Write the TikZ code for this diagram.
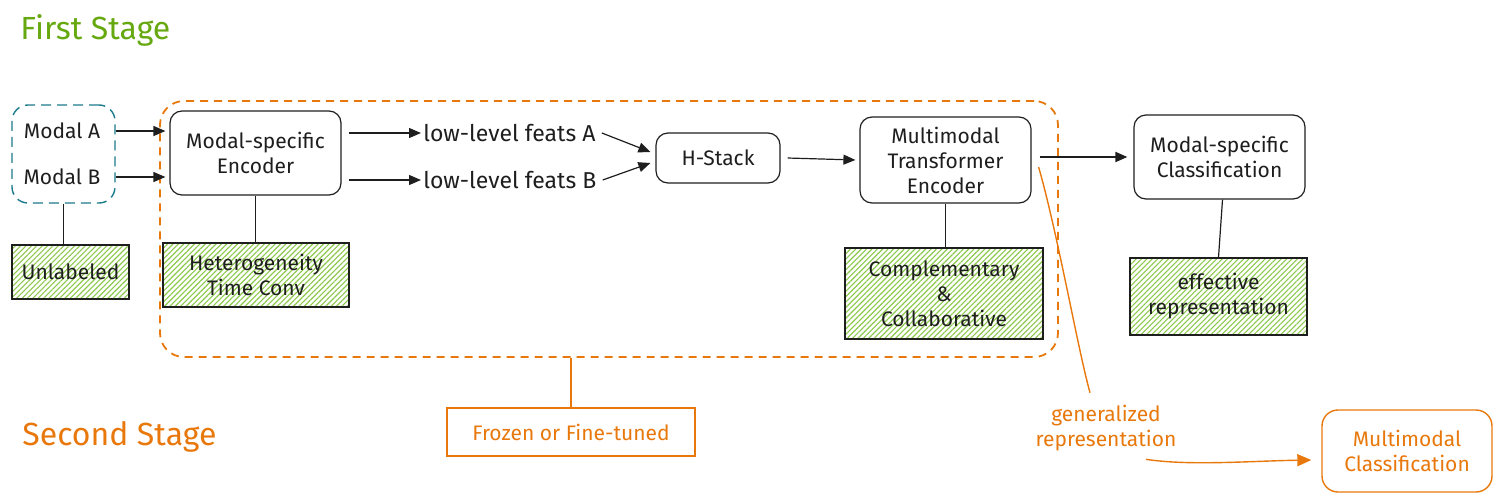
\documentclass[tikz,border=0pt]{standalone}
\usepackage{fontspec}
\setmainfont{Fira Sans}
\usetikzlibrary{arrows.meta,patterns.meta,calc}
\definecolor{ink}{HTML}{1E1E1E}
\definecolor{stgreen}{HTML}{66A80F}
\definecolor{hatch}{HTML}{8CC84B}
\definecolor{orng}{HTML}{E8780C}
\definecolor{teal}{HTML}{1B7A8C}
\tikzset{
  txt/.style={font=\fontsize{10.5}{12.5}\selectfont, text=ink, align=center, inner sep=1pt},
  blackbox/.style={txt, draw=ink, line width=0.6pt, rounded corners=6pt},
  hatchbox/.style={txt, draw=ink, line width=0.7pt,
    pattern={Lines[angle=45,distance=1.9pt,line width=0.55pt]}, pattern color=hatch},
  orangebox/.style={txt, text=orng, draw=orng, line width=0.7pt},
  conn/.style={draw=ink, line width=0.6pt},
  arr/.style={conn, -{Triangle[length=6pt,width=5pt]}},
  oarr/.style={draw=orng, line width=0.7pt, -{Triangle[length=7pt,width=6pt]}},
  stage/.style={font=\fontsize{16}{19}\selectfont, inner sep=0pt, anchor=west},
}
\begin{document}
\begin{tikzpicture}[x=0.5pt,y=-0.5pt]
\useasboundingbox (0,0) rectangle (1502,503);
% stage titles
\node[stage, text=stgreen] (first) at (20,30) {First Stage};
\node[stage, text=orng] (second) at (22,437) {Second Stage};
% outer orange dashed region
\node[draw=orng, line width=0.9pt, dash pattern=on 4pt off 3pt, rounded corners=12pt,
      minimum width=449pt, minimum height=128pt, inner sep=0pt] (outer) at (609,229) {};
% modal box
\node[draw=teal, line width=0.7pt, dash pattern=on 5pt off 3pt, rounded corners=8pt,
      minimum width=51.5pt, minimum height=49pt, inner sep=0pt] (modal) at (63.5,154) {};
\node[txt] (mA) at (62,131) {Modal A};
\node[txt] (mB) at (62,177) {Modal B};
\node[hatchbox, minimum width=58.5pt, minimum height=27pt] (unl) at (70.5,272) {Unlabeled};
% encoder
\node[blackbox, minimum width=85.5pt, minimum height=42pt] (enc) at (255.5,153) {Modal-specific\\Encoder};
\node[hatchbox, minimum width=93pt, minimum height=32pt] (het) at (256,275) {Heterogeneity\\Time Conv};
% features
\node[txt, anchor=west, font=\fontsize{11.5}{13}\selectfont] (fA) at (421,133) {low-level feats A};
\node[txt, anchor=west, font=\fontsize{11.5}{13}\selectfont] (fB) at (421,180) {low-level feats B};
% H-Stack
\node[blackbox, minimum width=62pt, minimum height=25pt] (hs) at (718,158) {H-Stack};
% MTE
\node[blackbox, minimum width=85.5pt, minimum height=43pt] (mte) at (945.5,160) {Multimodal\\Transformer\\Encoder};
\node[hatchbox, minimum width=99pt, minimum height=45.5pt] (cc) at (944,293.5) {Complementary\\\&\\Collaborative};
% MSC
\node[blackbox, minimum width=85.5pt, minimum height=42pt] (msc) at (1219.5,157) {Modal-specific\\Classification};
\node[hatchbox, minimum width=88.5pt, minimum height=38.5pt] (er) at (1218.5,296.5) {effective\\representation};
% frozen
\node[orangebox, minimum width=124pt, minimum height=24pt] (fz) at (571,432) {Frozen or Fine-tuned};
% multimodal classification
\node[orangebox, rounded corners=8pt, minimum width=85pt, minimum height=41pt] (mc) at (1407,451) {Multimodal\\Classification};
\node[txt, text=orng] (gen) at (1106,428) {generalized\\representation};
% connectors
\draw[arr] (modal.east |- mA) -- ([xshift=-2pt]enc.west |- mA);
\draw[arr] (modal.east |- mB) -- ([xshift=-2pt]enc.west |- mB);
\draw[conn] (modal.south) -- (modal.south |- unl.north);
\draw[conn] (enc.south) -- (enc.south |- het.north);
\draw[arr] ([xshift=3.5pt]enc.east |- fA) -- (fA.west);
\draw[arr] ([xshift=3.5pt]enc.east |- fB) -- (fB.west);
\draw[arr] ([xshift=2pt]fA.east) -- ($(hs.west)+(-5,-6)$);
\draw[arr] ([xshift=2pt]fB.east) -- ($(hs.west)+(-5,5)$);
\draw[arr] ([xshift=3.5pt]hs.east) -- ([xshift=-2pt]mte.west);
\draw[conn] (mte.south) -- (mte.south |- cc.north);
\draw[arr, line width=0.9pt] ([xshift=4pt]mte.east |- msc) -- ([xshift=-3pt]msc.west);
\draw[conn] ([xshift=1.5pt]msc.south) -- ([xshift=-0.5pt]msc.south |- er.north);
\draw[draw=orng, line width=0.6pt] (outer.south -| fz.north) -- (fz.north);
\coordinate (gstart) at ($(mte.east)+(7,7)$);
\draw[draw=orng, line width=0.7pt] (gstart) .. controls (1058,235) and (1078,350) .. ($(gen.north)+(-16,-10)$);
\draw[oarr] ($(gen.south)+(40,6)$) .. controls (1190,466) and (1250,461) .. ([xshift=-5pt]mc.west |- 0,460);
\end{tikzpicture}
\end{document}
